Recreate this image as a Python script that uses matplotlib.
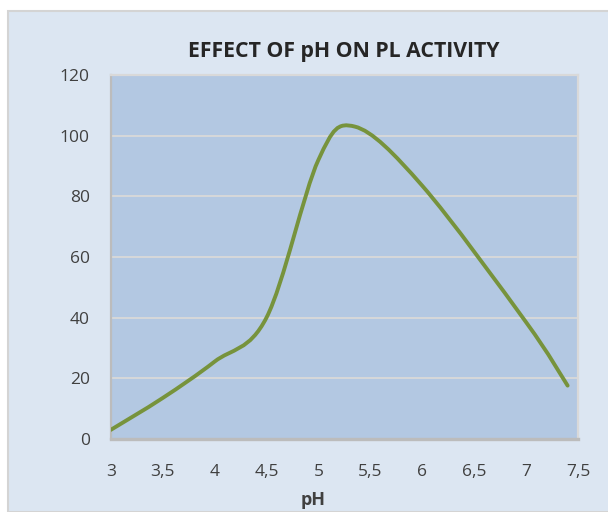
import numpy as np
import matplotlib
matplotlib.use("Agg")
import matplotlib.pyplot as plt
from matplotlib.path import Path
from matplotlib.patches import PathPatch, Rectangle
from matplotlib.ticker import FuncFormatter

# Data
ph = [3.0, 3.5, 4.0, 4.5, 5.0, 5.35, 6.0, 7.0, 7.4]
activity = [3.0, 13.5, 25.5, 40.0, 92.0, 103.0, 83.5, 38.5, 17.6]
x_ticks = [3, 3.5, 4, 4.5, 5, 5.5, 6, 6.5, 7, 7.5]
y_ticks = [0, 20, 40, 60, 80, 100, 120]

title = "EFFECT OF pH ON PL ACTIVITY"
x_title = "pH"

plt.rcParams["font.family"] = ["Open Sans", "DejaVu Sans"]

fig = plt.figure(figsize=(6.08, 5.12), dpi=100, facecolor="white")
# chart area background
fig.patches.append(Rectangle((8 / 608, 0), 1, 1 - 11 / 512, transform=fig.transFigure,
                             facecolor="#dce6f2", edgecolor="#d4d4d4", linewidth=1.5, zorder=-5))

ax = fig.add_axes([110.7 / 608, 1 - 439 / 512, (578 - 110.7) / 608, (439 - 75) / 512])
ax.set_zorder(2)
ax.set_facecolor("#b3c8e2")


# Excel style smoothed line: cubic bezier with control points at 1/6 of neighbours
def smooth_path(xs, ys):
    pts = np.column_stack([xs, ys])
    n = len(pts)
    verts = [pts[0]]
    codes = [Path.MOVETO]
    for i in range(n - 1):
        p0 = pts[i - 1] if i > 0 else pts[i]
        p1 = pts[i]
        p2 = pts[i + 1]
        p3 = pts[i + 2] if i + 2 < n else pts[i + 1]
        c1 = p1 + (p2 - p0) / 6
        c2 = p2 - (p3 - p1) / 6
        verts += [c1, c2, p2]
        codes += [Path.CURVE4] * 3
    return Path(verts, codes)


ax.add_patch(PathPatch(smooth_path(ph, activity), facecolor="none", edgecolor="#77933c",
                       linewidth=2.8, capstyle="round", zorder=3))

ax.set_xlim(3, 7.5)
ax.set_ylim(0, 120)
ax.set_xticks(x_ticks)
ax.set_yticks(y_ticks)
ax.xaxis.set_major_formatter(FuncFormatter(lambda v, p: ("%g" % v).replace(".", ",")))
ax.grid(axis="y", color="#d9d9d9", linewidth=1.3)
ax.set_axisbelow(True)
ax.tick_params(length=0, labelsize=12.5, colors="#404040")
ax.tick_params(axis="y", pad=15)
ax.tick_params(axis="x", pad=18)

ax.spines["left"].set_color("#bcbcbc")
ax.spines["left"].set_linewidth(1.6)
ax.spines["bottom"].set_color("#bcbcbc")
ax.spines["bottom"].set_linewidth(2.4)
ax.spines["right"].set_color("#d9d9d9")
ax.spines["right"].set_linewidth(1.6)
ax.spines["top"].set_color("#d9d9d9")
ax.spines["top"].set_linewidth(1.6)

fig.text(344 / 608, 1 - 52 / 512, title, ha="center", va="center",
         fontsize=15.3, fontweight="bold", color="#262626")
fig.text(313 / 608, 1 - 500 / 512, x_title, ha="center", va="center",
         fontsize=13, fontweight="bold", color="#404040")

fig.savefig("out.png", dpi=100, facecolor=fig.get_facecolor())
